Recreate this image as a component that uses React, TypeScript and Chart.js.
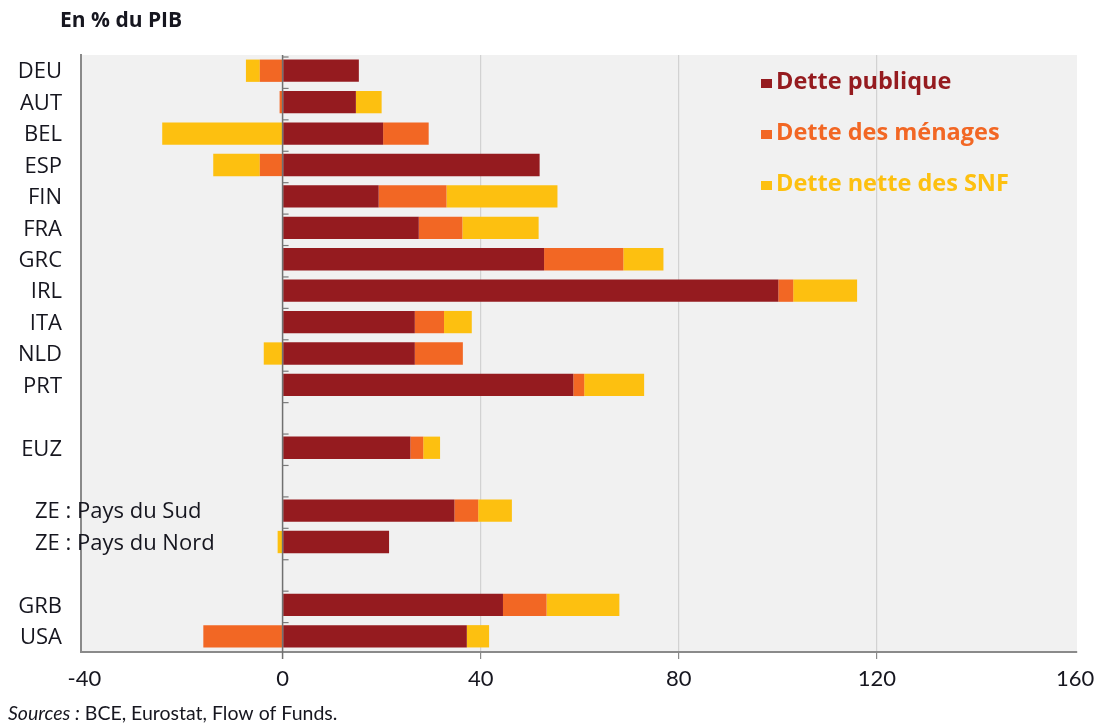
import React, { useEffect, useRef } from 'react';
import { Chart, registerables } from 'chart.js';

Chart.register(...registerables);

const categories = ['DEU', 'AUT', 'BEL', 'ESP', 'FIN', 'FRA', 'GRC', 'IRL', 'ITA', 'NLD', 'PRT', '', 'EUZ', '', 'ZE : Pays du Sud', 'ZE : Pays du Nord', '', 'GRB', 'USA'];
const dettePublique = [15.4, 14.8, 20.3, 51.9, 19.4, 27.5, 52.8, 100.1, 26.7, 26.7, 58.7, null, 25.8, null, 34.7, 21.5, null, 44.5, 37.2];
const detteMenages = [-4.6, -0.6, 9.2, -4.6, 13.7, 8.8, 16.0, 3.0, 5.9, 9.7, 2.2, null, 2.6, null, 4.8, 0, null, 8.8, -16.0];
const detteSNF = [-2.8, 5.2, -24.3, -9.4, 22.4, 15.4, 8.1, 12.9, 5.6, -3.8, 12.1, null, 3.4, null, 6.8, -1.0, null, 14.7, 4.5];
const seriesNames = ['Dette publique', 'Dette des ménages', 'Dette nette des SNF'];
const seriesColors = ['#951B1F', '#F26724', '#FDC010'];
const xTicks = [-40, 0, 40, 80, 120, 160];
const leftAlignedLabels = ['ZE : Pays du Sud', 'ZE : Pays du Nord'];
const titleText = 'En % du PIB';
const sourceItalic = 'Sources :';
const sourceRest = ' BCE, Eurostat, Flow of Funds.';

const TEXT = '#16161f';

const decorPlugin = {
  id: 'decor',
  beforeDraw(chart: any) {
    const { ctx, chartArea: a } = chart;
    ctx.save();
    ctx.fillStyle = '#F1F1F1';
    ctx.fillRect(a.left, a.top, a.right - a.left, a.bottom - a.top);
    ctx.restore();
  },
  afterDatasetsDraw(chart: any) {
    const { ctx, chartArea: a } = chart;
    const x0 = chart.scales.x.getPixelForValue(0);
    const ys = chart.scales.y;
    ctx.save();
    ctx.strokeStyle = '#707070';
    ctx.lineWidth = 1.5;
    ctx.beginPath();
    ctx.moveTo(x0, a.top);
    ctx.lineTo(x0, a.bottom + 7);
    ctx.stroke();
    const slot = (a.bottom - a.top) / categories.length;
    ctx.lineWidth = 1.2;
    ctx.strokeStyle = '#7a7a7a';
    for (let i = 0; i < categories.length; i++) {
      const y = ys.getPixelForValue(i) - slot / 2 + 2;
      ctx.beginPath();
      ctx.moveTo(x0, y);
      ctx.lineTo(x0 + 6, y);
      ctx.stroke();
    }
    ctx.restore();
  },
  afterDraw(chart: any) {
    const { ctx } = chart;
    const ys = chart.scales.y;
    ctx.save();
    // category labels
    ctx.fillStyle = TEXT;
    ctx.font = '22px "Open Sans"';
    ctx.textBaseline = 'middle';
    categories.forEach((c, i) => {
      if (!c) return;
      const y = ys.getPixelForValue(i) + 1.5;
      if (leftAlignedLabels.includes(c)) {
        ctx.textAlign = 'left';
        ctx.fillText(c, 35, y);
      } else {
        ctx.textAlign = 'right';
        ctx.fillText(c, 62, y);
      }
    });
    // legend
    ctx.font = 'bold 23.5px "Open Sans"';
    ctx.textAlign = 'left';
    const legendY = [82, 133, 184];
    seriesNames.forEach((n, i) => {
      ctx.fillStyle = seriesColors[i];
      ctx.fillRect(761, legendY[i] - 3, 11, 9);
      ctx.fillText(n, 776, legendY[i]);
    });
    // title
    ctx.fillStyle = TEXT;
    ctx.font = 'bold 21px "Open Sans"';
    ctx.fillText(titleText, 60, 21);
    // source
    ctx.font = 'italic 19.5px Lato';
    ctx.fillText(sourceItalic, 8, 714);
    const w = ctx.measureText(sourceItalic).width;
    ctx.font = '19.5px Lato';
    ctx.fillText(sourceRest, 8 + w, 714);
    ctx.restore();
  },
};

export default function App() {
  const ref = useRef<HTMLCanvasElement | null>(null);
  useEffect(() => {
    if (!ref.current) return;
    const chart = new Chart(ref.current, {
      type: 'bar',
      data: {
        labels: categories,
        datasets: [
          { label: seriesNames[0], data: dettePublique, backgroundColor: seriesColors[0] },
          { label: seriesNames[1], data: detteMenages, backgroundColor: seriesColors[1] },
          { label: seriesNames[2], data: detteSNF, backgroundColor: seriesColors[2] },
        ],
      },
      options: {
        indexAxis: 'y',
        responsive: true,
        maintainAspectRatio: false,
        animation: false,
        datasets: { bar: { barPercentage: 0.71, categoryPercentage: 1, borderWidth: 0 } },
        layout: { padding: { top: 55, right: 30, left: 0, bottom: 0 } },
        plugins: { legend: { display: false }, tooltip: { enabled: false } },
        scales: {
          x: {
            stacked: true,
            min: -40.7,
            max: 160.4,
            afterBuildTicks: (s: any) => {
              s.ticks = xTicks.map((v) => ({ value: v }));
            },
            afterFit: (s: any) => {
              s.height = 75;
            },
            grid: {
              color: (c: any) => {
                const v = c.tick && c.tick.value;
                return v === 40 || v === 80 || v === 120 ? '#d2d2d2' : 'rgba(0,0,0,0)';
              },
              tickColor: (c: any) => {
                const v = c.tick && c.tick.value;
                return v === 40 || v === 80 || v === 120 ? '#8a8a8a' : 'rgba(0,0,0,0)';
              },
              tickLength: 7,
              lineWidth: 1.2,
            },
            border: { display: true, color: '#8a8a8a', width: 2 },
            ticks: {
              font: { family: 'Lato', size: 22 },
              color: TEXT,
              padding: 7,
              autoSkip: false,
              maxRotation: 0,
            },
          },
          y: {
            stacked: true,
            afterFit: (s: any) => {
              s.width = 81;
            },
            ticks: { display: false },
            grid: { display: false },
            border: { display: true, color: '#8a8a8a', width: 2 },
          },
        },
      },
      plugins: [decorPlugin],
    });
    return () => chart.destroy();
  }, []);
  return (
    <div style={{ position: 'fixed', left: 0, top: 0, width: 1107, height: 727, background: '#fff' }}>
      <canvas ref={ref} />
    </div>
  );
}
